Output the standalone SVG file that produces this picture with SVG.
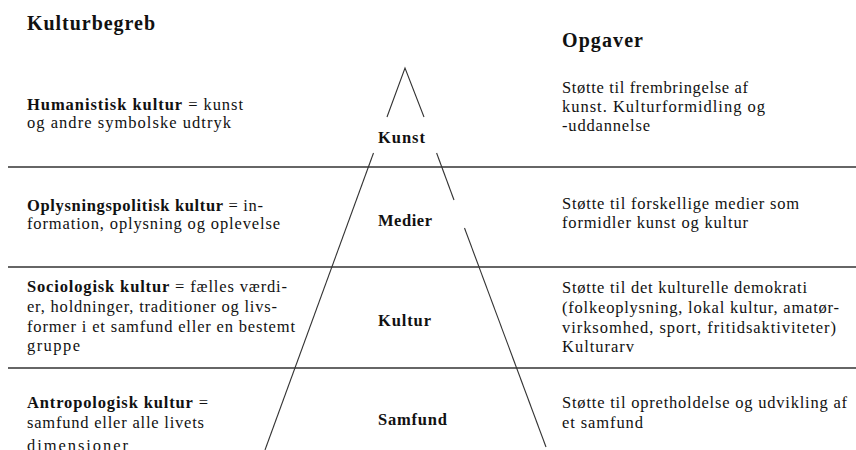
<svg xmlns="http://www.w3.org/2000/svg" width="856" height="450" viewBox="0 0 856 450">
<style>
text{font-family:"Liberation Serif","Times New Roman",serif;fill:#111;font-size:16.5px}
.b{font-weight:bold}
.h{font-weight:bold;font-size:20px}
.rule{stroke:#333;stroke-width:1.5;fill:none}
.leg{stroke:#333;stroke-width:1.1;fill:none}
</style>
<rect width="856" height="450" fill="#fff"/>
<g id="connectors">
<line class="rule" x1="8" y1="167" x2="856" y2="167"/>
<line class="rule" x1="8" y1="267" x2="856" y2="267"/>
<line class="rule" x1="8" y1="368" x2="856" y2="368"/>
<polyline class="leg" points="387,117 405,68 424,117"/>
<line class="leg" x1="373.5" y1="153" x2="265" y2="450"/>
<line class="leg" x1="436.6" y1="153" x2="454" y2="200"/>
<line class="leg" x1="464.5" y1="228" x2="546" y2="447"/>
</g>
<g id="headers">
<text class="h" x="27" y="30" textLength="128" lengthAdjust="spacing">Kulturbegreb</text>
<text class="h" x="562" y="47" textLength="81" lengthAdjust="spacing">Opgaver</text>
</g>
<g id="row-humanistisk">
<text x="27" y="110" textLength="216" lengthAdjust="spacing"><tspan class="b">Humanistisk kultur</tspan> = kunst</text>
<text x="27" y="128" textLength="204" lengthAdjust="spacing">og andre symbolske udtryk</text>
</g>
<g id="row-oplysning">
<text x="27" y="211" textLength="236" lengthAdjust="spacing"><tspan class="b">Oplysningspolitisk kultur</tspan> = in-</text>
<text x="27" y="229" textLength="253" lengthAdjust="spacing">formation, oplysning og oplevelse</text>
</g>
<g id="row-sociologisk">
<text x="27" y="292" textLength="260" lengthAdjust="spacing"><tspan class="b">Sociologisk kultur</tspan> = fælles værdi-</text>
<text x="27" y="312" textLength="250" lengthAdjust="spacing">er, holdninger, traditioner og livs-</text>
<text x="27" y="332" textLength="268" lengthAdjust="spacing">former i et samfund eller en bestemt</text>
<text x="27" y="351" textLength="53" lengthAdjust="spacing">gruppe</text>
</g>
<g id="row-antropologisk">
<text x="27" y="408" textLength="181" lengthAdjust="spacing"><tspan class="b">Antropologisk kultur</tspan> =</text>
<text x="27" y="428" textLength="177" lengthAdjust="spacing">samfund eller alle livets</text>
<text x="27" y="451" textLength="101" lengthAdjust="spacing">dimensioner</text>
</g>
<g id="label-kunst"><text class="b" x="378" y="143" textLength="47" lengthAdjust="spacing">Kunst</text></g>
<g id="label-medier"><text class="b" x="378" y="226" textLength="54" lengthAdjust="spacing">Medier</text></g>
<g id="label-kultur"><text class="b" x="378" y="326" textLength="53" lengthAdjust="spacing">Kultur</text></g>
<g id="label-samfund"><text class="b" x="378" y="425" textLength="69" lengthAdjust="spacing">Samfund</text></g>
<g id="task-kunst">
<text x="562" y="93" textLength="186" lengthAdjust="spacing">Støtte til frembringelse af</text>
<text x="562" y="112" textLength="203" lengthAdjust="spacing">kunst. Kulturformidling  og</text>
<text x="562" y="131" textLength="88" lengthAdjust="spacing">-uddannelse</text>
</g>
<g id="task-medier">
<text x="562" y="209" textLength="237" lengthAdjust="spacing">Støtte til forskellige medier som</text>
<text x="562" y="228" textLength="186" lengthAdjust="spacing">formidler kunst og kultur</text>
</g>
<g id="task-kultur">
<text x="562" y="293" textLength="245" lengthAdjust="spacing">Støtte til det kulturelle demokrati</text>
<text x="562" y="313" textLength="277" lengthAdjust="spacing">(folkeoplysning, lokal kultur, amatør-</text>
<text x="562" y="333" textLength="274" lengthAdjust="spacing">virksomhed, sport, fritidsaktiviteter)</text>
<text x="562" y="352" textLength="72" lengthAdjust="spacing">Kulturarv</text>
</g>
<g id="task-samfund">
<text x="562" y="408" textLength="285" lengthAdjust="spacing">Støtte til opretholdelse og udvikling af</text>
<text x="562" y="428" textLength="81" lengthAdjust="spacing">et samfund</text>
</g>
</svg>
